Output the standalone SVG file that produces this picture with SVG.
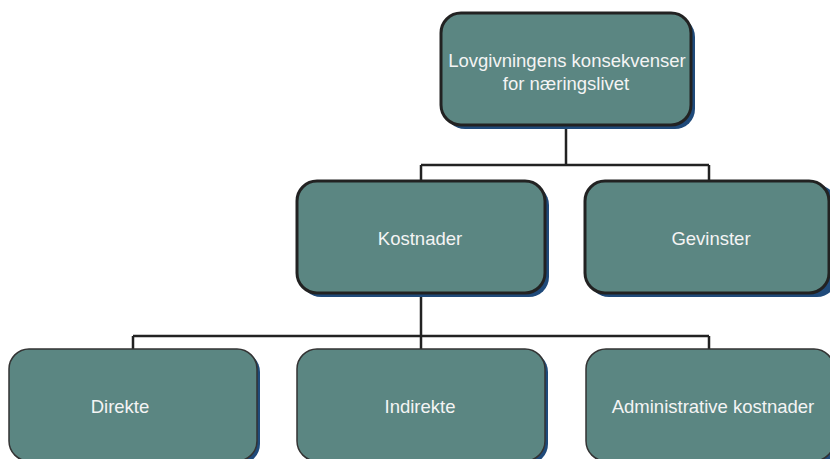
<svg xmlns="http://www.w3.org/2000/svg" width="830" height="459" viewBox="0 0 830 459">
<style>
.shadow{fill:#1f4a7a}
.box{fill:#5b8682;stroke:#222;stroke-width:3}
.box2{fill:#5b8682;stroke:#333;stroke-width:1.5}
.t{font-family:"Liberation Sans",Arial,sans-serif;font-size:18.5px;fill:#f4f4f4;text-anchor:middle}
.c{fill:none;stroke:#222;stroke-width:2.5}
</style>
<rect width="830" height="459" fill="#fff"/>
<g id="connectors">
<path class="c" d="M566 126V165M421 165H709M421 165V181M709 165V181"/>
<path class="c" d="M421 293V336M133 336H709M133 336V349M421 336V349M709 336V349"/>
</g>
<g id="top">
<rect class="shadow" x="445" y="17" width="250" height="112" rx="20"/>
<rect class="box" x="441" y="13" width="250" height="112" rx="20"/>
<text class="t" x="567" y="67">Lovgivningens konsekvenser</text>
<text class="t" x="566" y="90">for næringslivet</text>
</g>
<g id="kostnader">
<rect class="shadow" x="301" y="185" width="248" height="112" rx="20"/>
<rect class="box" x="297" y="181" width="248" height="112" rx="20"/>
<text class="t" x="420" y="245">Kostnader</text>
</g>
<g id="gevinster">
<rect class="shadow" x="589" y="185" width="248" height="112" rx="20"/>
<rect class="box" x="585" y="181" width="244" height="112" rx="20"/>
<text class="t" x="711" y="245">Gevinster</text>
</g>
<g id="direkte">
<rect class="shadow" x="12" y="352" width="248" height="112" rx="20"/>
<rect class="box2" x="9" y="349" width="248" height="112" rx="20"/>
<text class="t" x="120" y="413">Direkte</text>
</g>
<g id="indirekte">
<rect class="shadow" x="300" y="352" width="248" height="112" rx="20"/>
<rect class="box2" x="297" y="349" width="248" height="112" rx="20"/>
<text class="t" x="420" y="413">Indirekte</text>
</g>
<g id="administrative">
<rect class="shadow" x="589" y="352" width="248" height="112" rx="20"/>
<rect class="box2" x="586" y="349" width="248" height="112" rx="20"/>
<text class="t" x="713" y="413">Administrative kostnader</text>
</g>
</svg>
